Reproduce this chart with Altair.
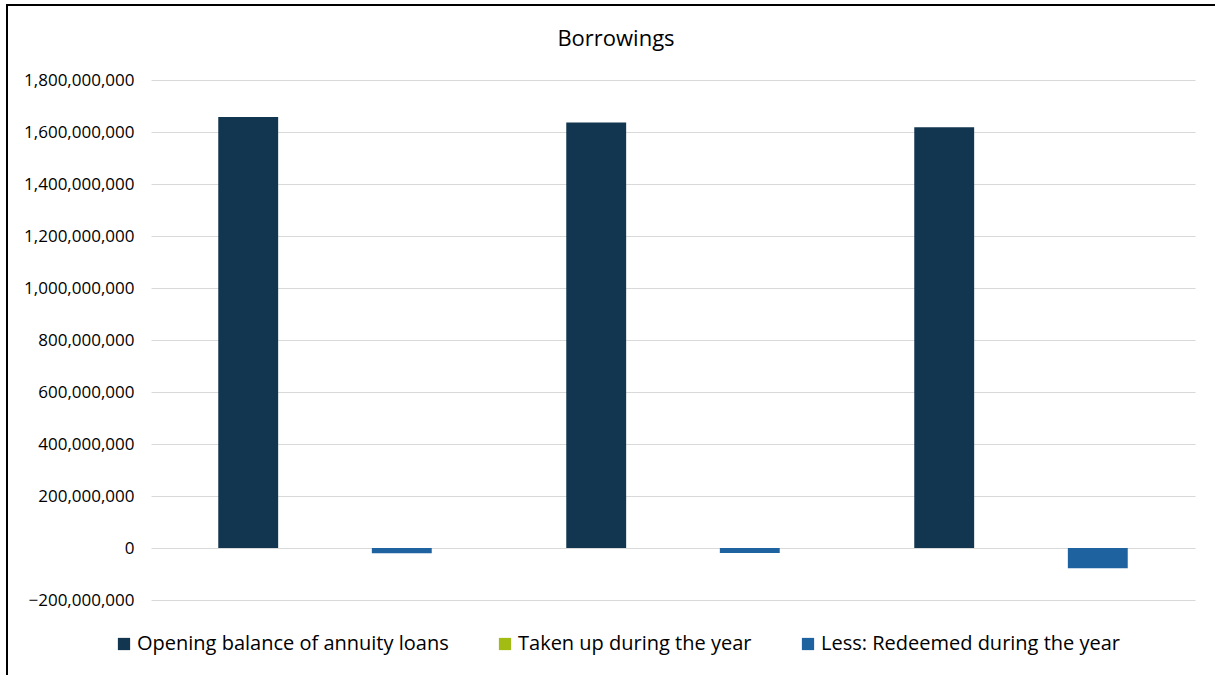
import altair as alt
import pandas as pd

years = ["Year 1", "Year 2", "Year 3"]
series = ["Opening balance of annuity loans", "Taken up during the year", "Less: Redeemed during the year"]
opening = [1657700000, 1637000000, 1618000000]
taken = [0, 0, 0]
redeemed = [-20500000, -19000000, -78000000]
colors = ["#12364f", "#a2bc14", "#1f62a0"]
y_ticks = [-200000000, 0, 200000000, 400000000, 600000000, 800000000,
           1000000000, 1200000000, 1400000000, 1600000000, 1800000000]

rows = []
for i, yr in enumerate(years):
    for s, vals in zip(series, [opening, taken, redeemed]):
        rows.append({"Year": yr, "Series": s, "Value": vals[i]})
df = pd.DataFrame(rows)

FONT = "Open Sans"
PL, PT = 151, 80
W, H = 1044, 520

bars = alt.Chart(df).mark_bar().encode(
    x=alt.X("Year:N", sort=years, axis=None,
            scale=alt.Scale(paddingInner=0, paddingOuter=0)),
    xOffset=alt.XOffset("Series:N", sort=series,
                        scale=alt.Scale(paddingInner=0.22, paddingOuter=0.876)),
    y=alt.Y("Value:Q", title=None,
            scale=alt.Scale(domain=[-200000000, 1800000000], nice=False, zero=False),
            axis=alt.Axis(values=y_ticks, format=",d", grid=True, gridColor="#d9d9d9",
                          gridWidth=1, domain=False, ticks=False, labelPadding=17,
                          labelFont=FONT, labelFontSize=17, labelColor="#000000")),
    color=alt.Color("Series:N", sort=series,
                    scale=alt.Scale(domain=series, range=colors),
                    legend=alt.Legend(title=None, orient="none", direction="horizontal",
                                      legendX=-37, legendY=554, symbolType="square",
                                      symbolSize=150, symbolStrokeWidth=0, labelFont=FONT,
                                      labelFontSize=20, labelColor="#000000", labelOffset=3,
                                      columnPadding=46, labelLimit=500)),
)

frame = alt.Chart(pd.DataFrame({"a": [0]})).mark_rect(
    fill=None, stroke="#000000", strokeWidth=2
).encode(
    x=alt.value(7 - PL), x2=alt.value(1230 - PL),
    y=alt.value(5 - PT), y2=alt.value(690 - PT),
)

chart = alt.layer(frame, bars).properties(
    width=W, height=H,
    title=alt.TitleParams("Borrowings", font=FONT, fontSize=22, fontWeight="normal",
                          color="#000000", anchor="middle", offset=-47, dx=-57),
    autosize=alt.AutoSizeParams(type="none"),
    padding={"left": PL, "top": PT, "right": 1215 - PL - W, "bottom": 675 - PT - H},
).configure(background="#ffffff", view=alt.ViewConfig(stroke=None))

chart.save("out.html", embed_options={"renderer": "svg", "actions": False})
